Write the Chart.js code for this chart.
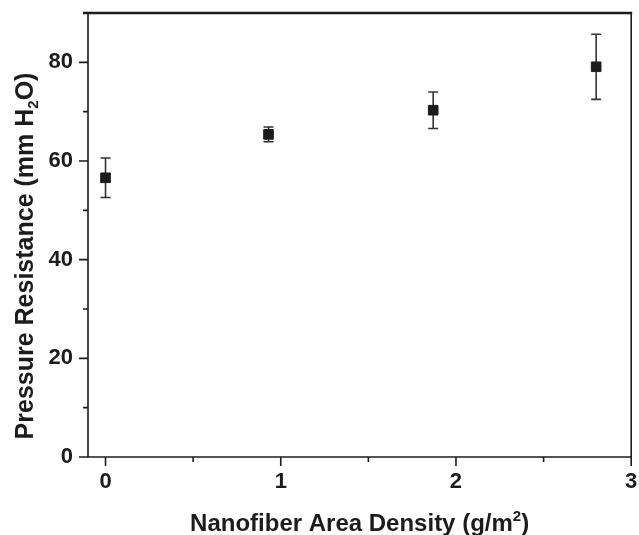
<!DOCTYPE html>
<html>
<head>
<meta charset="utf-8">
<script src="https://cdn.jsdelivr.net/npm/chart.js@4"></script>
<style>
  html, body { margin: 0; padding: 0; background: #fff; }
  #wrap { width: 639px; height: 535px; }
</style>
</head>
<body>
<div id="wrap"><canvas id="chart" width="639" height="535"></canvas></div>
<script>
// Data
const densities = [0, 0.93, 1.87, 2.80];        // g/m2
const resistance = [56.6, 65.4, 70.3, 79.1];    // mm H2O
const resistanceErr = [4.0, 1.5, 3.7, 6.6];

// Tick positions (major ones get labels)
const xTickValues = [0, 0.5, 1, 1.5, 2, 2.5, 3];
const yTickValues = [0, 10, 20, 30, 40, 50, 60, 70, 80];

const inkColor = '#1c1c1c';

// error bars, drawn under the markers
const errorBars = {
    id: 'errorBars',
    beforeDatasetsDraw(chart) {
        const ctx = chart.ctx;
        const xs = chart.scales.x;
        const ys = chart.scales.y;
        ctx.save();
        ctx.strokeStyle = '#333';
        ctx.lineWidth = 1.6;
        for (let i = 0; i < densities.length; i++) {
            const px = xs.getPixelForValue(densities[i]);
            const top = ys.getPixelForValue(resistance[i] + resistanceErr[i]);
            const bot = ys.getPixelForValue(resistance[i] - resistanceErr[i]);
            ctx.beginPath();
            ctx.moveTo(px, top); ctx.lineTo(px, bot);
            ctx.moveTo(px - 5, top); ctx.lineTo(px + 5, top);
            ctx.moveTo(px - 5, bot); ctx.lineTo(px + 5, bot);
            ctx.stroke();
        }
        ctx.restore();
    }
};

// frame, outward tick marks and the axis titles
const frameAndTitles = {
    id: 'frameAndTitles',
    afterDraw(chart) {
        const ctx = chart.ctx;
        const a = chart.chartArea;
        const xs = chart.scales.x;
        const ys = chart.scales.y;
        ctx.save();
        ctx.strokeStyle = inkColor;
        ctx.lineWidth = 1.6;
        ctx.beginPath();
        ctx.moveTo(a.left, a.top); ctx.lineTo(a.left, a.bottom);
        ctx.lineTo(a.right, a.bottom); ctx.lineTo(a.right, a.top);
        ctx.stroke();
        ctx.lineWidth = 2.4;
        ctx.beginPath();
        ctx.moveTo(a.left - 5, a.top); ctx.lineTo(a.right + 1, a.top);
        ctx.stroke();

        ctx.lineWidth = 1.6;
        ctx.beginPath();
        xTickValues.forEach(v => {
            const px = xs.getPixelForValue(v);
            const len = v % 1 === 0 ? 9 : 5;
            ctx.moveTo(px, a.bottom); ctx.lineTo(px, a.bottom + len);
        });
        yTickValues.forEach(v => {
            const py = ys.getPixelForValue(v);
            const len = v % 20 === 0 ? 9 : 5;
            ctx.moveTo(a.left, py); ctx.lineTo(a.left - len, py);
        });
        ctx.stroke();

        // x title with superscript
        ctx.fillStyle = inkColor;
        ctx.textBaseline = 'alphabetic';
        const big = 'bold 24px "Liberation Sans", Arial, sans-serif';
        const small = 'bold 15px "Liberation Sans", Arial, sans-serif';
        ctx.font = big;
        const xa = 'Nanofiber Area Density (g/m';
        const xb = '2';
        const xc = ')';
        const wa = ctx.measureText(xa).width;
        const wc = ctx.measureText(xc).width;
        ctx.font = small;
        const wb = ctx.measureText(xb).width;
        let x0 = (a.left + a.right) / 2 - (wa + wb + wc) / 2;
        const yBase = 531;
        ctx.font = big;
        ctx.fillText(xa, x0, yBase);
        ctx.font = small;
        ctx.fillText(xb, x0 + wa, yBase - 10);
        ctx.font = big;
        ctx.fillText(xc, x0 + wa + wb, yBase);

        // y title with subscript, rotated
        const bigY = 'bold 25px "Liberation Sans", Arial, sans-serif';
        const smallY = 'bold 15px "Liberation Sans", Arial, sans-serif';
        const ya = 'Pressure Resistance (mm H';
        const yb = '2';
        const yc = 'O)';
        ctx.font = bigY;
        const ha = ctx.measureText(ya).width;
        const hc = ctx.measureText(yc).width;
        ctx.font = smallY;
        const hb = ctx.measureText(yb).width;
        ctx.translate(33, 256);
        ctx.rotate(-Math.PI / 2);
        let s = -(ha + hb + hc) / 2;
        ctx.font = bigY;
        ctx.fillText(ya, s, 0);
        ctx.font = smallY;
        ctx.fillText(yb, s + ha, 5);
        ctx.font = bigY;
        ctx.fillText(yc, s + ha + hb, 0);
        ctx.restore();
    }
};

const ctx = document.getElementById('chart').getContext('2d');
const chart = new Chart(ctx, {
    type: 'scatter',
    data: {
        datasets: [{
            label: 'Pressure Resistance',
            data: densities.map((d, i) => ({ x: d, y: resistance[i] })),
            pointStyle: 'rect',
            pointRadius: 6.8,
            pointHoverRadius: 6.8,
            backgroundColor: inkColor,
            borderColor: inkColor,
            borderWidth: 1
        }]
    },
    options: {
        responsive: false,
        animation: false,
        events: [],
        layout: { padding: { top: 13, right: 2, left: 0, bottom: 0 } },
        plugins: {
            legend: { display: false },
            tooltip: { enabled: false }
        },
        scales: {
            x: {
                type: 'linear',
                min: -0.1,
                max: 3,
                afterBuildTicks: scale => {
                    scale.ticks = xTickValues.map(v => ({ value: v }));
                },
                afterFit: scale => {
                    scale.height = 78;
                    scale.paddingLeft = 0;
                    scale.paddingRight = 0;
                },
                grid: { display: false },
                border: { display: false },
                ticks: {
                    autoSkip: false,
                    maxRotation: 0,
                    padding: 4,
                    color: inkColor,
                    font: { family: '"Liberation Sans", Arial, sans-serif', size: 22, weight: 'bold' },
                    callback: v => (v % 1 === 0 ? String(v) : '')
                }
            },
            y: {
                min: 0,
                max: 90,
                afterBuildTicks: scale => {
                    scale.ticks = yTickValues.map(v => ({ value: v }));
                },
                afterFit: scale => {
                    scale.width = 88;
                    scale.paddingTop = 0;
                    scale.paddingBottom = 0;
                },
                grid: { display: false },
                border: { display: false },
                ticks: {
                    autoSkip: false,
                    padding: 7,
                    color: inkColor,
                    font: { family: '"Liberation Sans", Arial, sans-serif', size: 22, weight: 'bold' },
                    callback: v => (v % 20 === 0 ? String(v) : '')
                }
            }
        }
    },
    plugins: [errorBars, frameAndTitles]
});
</script>
</body>
</html>
